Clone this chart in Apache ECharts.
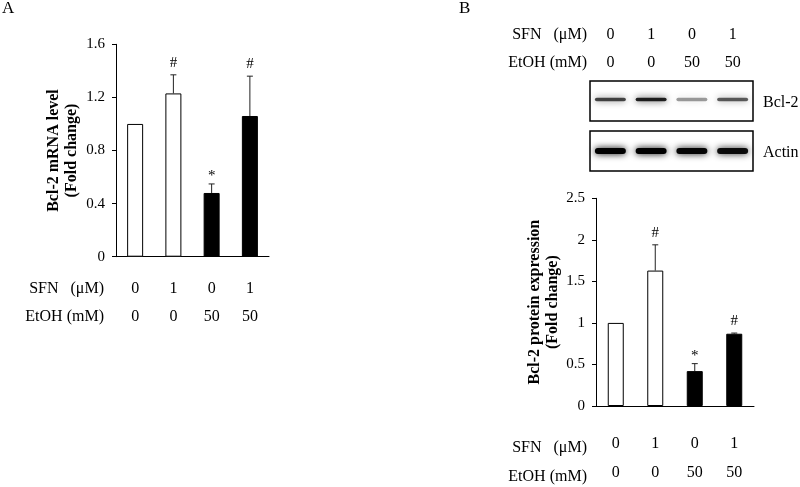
<!DOCTYPE html>
<html>
<head>
<meta charset="utf-8">
<script src="https://cdn.jsdelivr.net/npm/echarts@6/dist/echarts.min.js"></script>
<style>
html,body{margin:0;padding:0;background:#fff;}
#chart{width:800px;height:487px;}
</style>
</head>
<body>
<div id="chart"></div>
<script>
// ---- data ----
const lanes = ['L1', 'L2', 'L3', 'L4'];
const sfnLabels = ['0', '1', '0', '1'];
const etohLabels = ['0', '0', '50', '50'];
const mrnaMean = [1.0, 1.23, 0.48, 1.06];
const mrnaErr = [0, 0.14, 0.068, 0.30];
const mrnaMarks = ['', '#', '*', '#'];
const proteinMean = [1.0, 1.63, 0.42, 0.87];
const proteinErr = [0, 0.31, 0.09, 0.008];
const proteinMarks = ['', '#', '*', '#'];
const bcl2Band = [0.78, 0.95, 0.42, 0.68];
const actinBand = [1.0, 1.0, 0.97, 0.93];
const mrnaAxis = { min: 0, max: 1.6, interval: 0.4 };
const proteinAxis = { min: 0, max: 2.5, interval: 0.5 };

const FONT = '"Liberation Serif", "Times New Roman", serif';

function barData(means) {
  return means.map((v, i) => ({
    value: v,
    itemStyle: {
      color: etohLabels[i] === '50' ? '#000' : '#fff',
      borderColor: '#000',
      borderWidth: 1
    }
  }));
}

function errRender(marks) {
  return function (params, api) {
    const idx = api.value(0);
    const mean = api.value(1);
    const err = api.value(2);
    const base = api.coord([idx, mean]);
    const top = api.coord([idx, mean + err]);
    const children = [];
    if (err > 0) {
      children.push({
        type: 'line',
        shape: { x1: base[0], y1: base[1], x2: top[0], y2: top[1] },
        style: { stroke: '#222', lineWidth: 1 }
      });
      children.push({
        type: 'line',
        shape: { x1: top[0] - 3, y1: top[1], x2: top[0] + 3, y2: top[1] },
        style: { stroke: '#222', lineWidth: 1 }
      });
    }
    const m = marks[idx];
    if (m) {
      children.push({
        type: 'text',
        style: {
          text: m, x: top[0], y: top[1] - (m === '*' ? 8 : 12),
          align: 'center', verticalAlign: 'middle',
          font: '15px ' + FONT, fill: '#000'
        }
      });
    }
    return { type: 'group', children };
  };
}

function blotRender(params, api) {
  const i = api.value(0);
  const b = api.value(1);
  const a = api.value(2);
  const cx = api.coord([i, 0])[0];
  const w = api.size([1, 0])[0] * 0.76;
  const cs = params.coordSys;
  const y1 = cs.y + 18.5;
  const y2 = cs.y + 70;
  function band(y, h, k) {
    const c = 'rgba(0,0,0,' + k + ')';
    return {
      type: 'rect',
      shape: { x: cx - w / 2, y: y - h / 2, width: w, height: h, r: h / 2 },
      style: { fill: c, shadowBlur: 7, shadowColor: c }
    };
  }
  return { type: 'group', children: [band(y1, 3.5, b * 0.9), band(y2, 6, a)] };
}

const tableFmt = (v, i) => sfnLabels[i] + '\n' + etohLabels[i];
const axisLabelBase = { fontFamily: FONT, fontSize: 16, color: '#000' };

const chart = echarts.init(document.getElementById('chart'));
chart.setOption({
  animation: false,
  backgroundColor: '#fff',
  grid: [
    { left: 116, top: 44.3, width: 153, height: 212.4 },
    { left: 596, top: 198.3, width: 158, height: 212.4 },
    { left: 590, top: 81, width: 163, height: 90 }
  ],
  xAxis: [
    {
      type: 'category', gridIndex: 0, data: lanes,
      axisLine: { lineStyle: { color: '#000', width: 1 } },
      axisTick: { show: false },
      axisLabel: Object.assign({ interval: 0, formatter: tableFmt, lineHeight: 28, margin: 18 }, axisLabelBase)
    },
    {
      type: 'category', gridIndex: 1, data: lanes,
      axisLine: { lineStyle: { color: '#000', width: 1 } },
      axisTick: { show: false },
      axisLabel: Object.assign({ interval: 0, formatter: tableFmt, lineHeight: 29, margin: 23 }, axisLabelBase)
    },
    {
      type: 'category', gridIndex: 2, data: lanes, position: 'top',
      axisLine: { show: false },
      axisTick: { show: false },
      axisLabel: Object.assign({ interval: 0, formatter: tableFmt, lineHeight: 28, margin: 4 }, axisLabelBase)
    }
  ],
  yAxis: [
    {
      type: 'value', gridIndex: 0,
      min: mrnaAxis.min, max: mrnaAxis.max, interval: mrnaAxis.interval,
      name: 'Bcl-2 mRNA level\n(Fold change)',
      nameLocation: 'middle', nameRotate: 90, nameGap: 35,
      nameTextStyle: { fontFamily: FONT, fontSize: 16, fontWeight: 'bold', color: '#000', lineHeight: 18 },
      axisLine: { show: true, lineStyle: { color: '#000', width: 1 } },
      axisTick: { show: true, length: 4, lineStyle: { color: '#000' } },
      splitLine: { show: false },
      axisLabel: { fontFamily: FONT, fontSize: 15, color: '#000', margin: 11 }
    },
    {
      type: 'value', gridIndex: 1,
      min: proteinAxis.min, max: proteinAxis.max, interval: proteinAxis.interval,
      name: 'Bcl-2 protein expression\n(Fold change)',
      nameLocation: 'middle', nameRotate: 90, nameGap: 30,
      nameTextStyle: { fontFamily: FONT, fontSize: 16, fontWeight: 'bold', color: '#000', lineHeight: 18 },
      axisLine: { show: true, lineStyle: { color: '#000', width: 1 } },
      axisTick: { show: true, length: 4, lineStyle: { color: '#000' } },
      splitLine: { show: false },
      axisLabel: { fontFamily: FONT, fontSize: 15, color: '#000', margin: 11 }
    },
    { type: 'value', gridIndex: 2, min: 0, max: 1, show: false }
  ],
  series: [
    { type: 'bar', xAxisIndex: 0, yAxisIndex: 0, barWidth: 16, data: barData(mrnaMean), z: 2 },
    {
      type: 'custom', xAxisIndex: 0, yAxisIndex: 0, z: 3,
      renderItem: errRender(mrnaMarks),
      data: mrnaMean.map((v, i) => [i, v, mrnaErr[i]])
    },
    { type: 'bar', xAxisIndex: 1, yAxisIndex: 1, barWidth: 16, data: barData(proteinMean), z: 2 },
    {
      type: 'custom', xAxisIndex: 1, yAxisIndex: 1, z: 3,
      renderItem: errRender(proteinMarks),
      data: proteinMean.map((v, i) => [i, v, proteinErr[i]])
    },
    {
      type: 'custom', xAxisIndex: 2, yAxisIndex: 2, z: 2,
      renderItem: blotRender,
      data: lanes.map((_, i) => [i, bcl2Band[i], actinBand[i]])
    }
  ],
  graphic: [
    { type: 'text', left: 2, top: 0, style: { text: 'A', font: '17px ' + FONT, fill: '#000' } },
    { type: 'text', left: 459, top: 0, style: { text: 'B', font: '17px ' + FONT, fill: '#000' } },
    { type: 'text', x: 104, y: 289, style: { text: 'SFN\u00a0\u00a0\u00a0(\u03bcM)', font: '16px ' + FONT, fill: '#000', align: 'right', verticalAlign: 'middle' } },
    { type: 'text', x: 104, y: 317, style: { text: 'EtOH (mM)', font: '16px ' + FONT, fill: '#000', align: 'right', verticalAlign: 'middle' } },
    { type: 'text', x: 587, y: 35, style: { text: 'SFN\u00a0\u00a0\u00a0(\u03bcM)', font: '16px ' + FONT, fill: '#000', align: 'right', verticalAlign: 'middle' } },
    { type: 'text', x: 587, y: 63, style: { text: 'EtOH (mM)', font: '16px ' + FONT, fill: '#000', align: 'right', verticalAlign: 'middle' } },
    { type: 'text', x: 587, y: 448, style: { text: 'SFN\u00a0\u00a0\u00a0(\u03bcM)', font: '16px ' + FONT, fill: '#000', align: 'right', verticalAlign: 'middle' } },
    { type: 'text', x: 587, y: 477, style: { text: 'EtOH (mM)', font: '16px ' + FONT, fill: '#000', align: 'right', verticalAlign: 'middle' } },
    { type: 'rect', shape: { x: 590, y: 81, width: 163, height: 40 }, style: { fill: 'none', stroke: '#000', lineWidth: 1.5 } },
    { type: 'rect', shape: { x: 590, y: 131, width: 163, height: 40 }, style: { fill: 'none', stroke: '#000', lineWidth: 1.5 } },
    { type: 'text', x: 763, y: 103, style: { text: 'Bcl-2', font: '16px ' + FONT, fill: '#000', verticalAlign: 'middle' } },
    { type: 'text', x: 763, y: 153, style: { text: 'Actin', font: '16px ' + FONT, fill: '#000', verticalAlign: 'middle' } }
  ]
});
</script>
</body>
</html>
